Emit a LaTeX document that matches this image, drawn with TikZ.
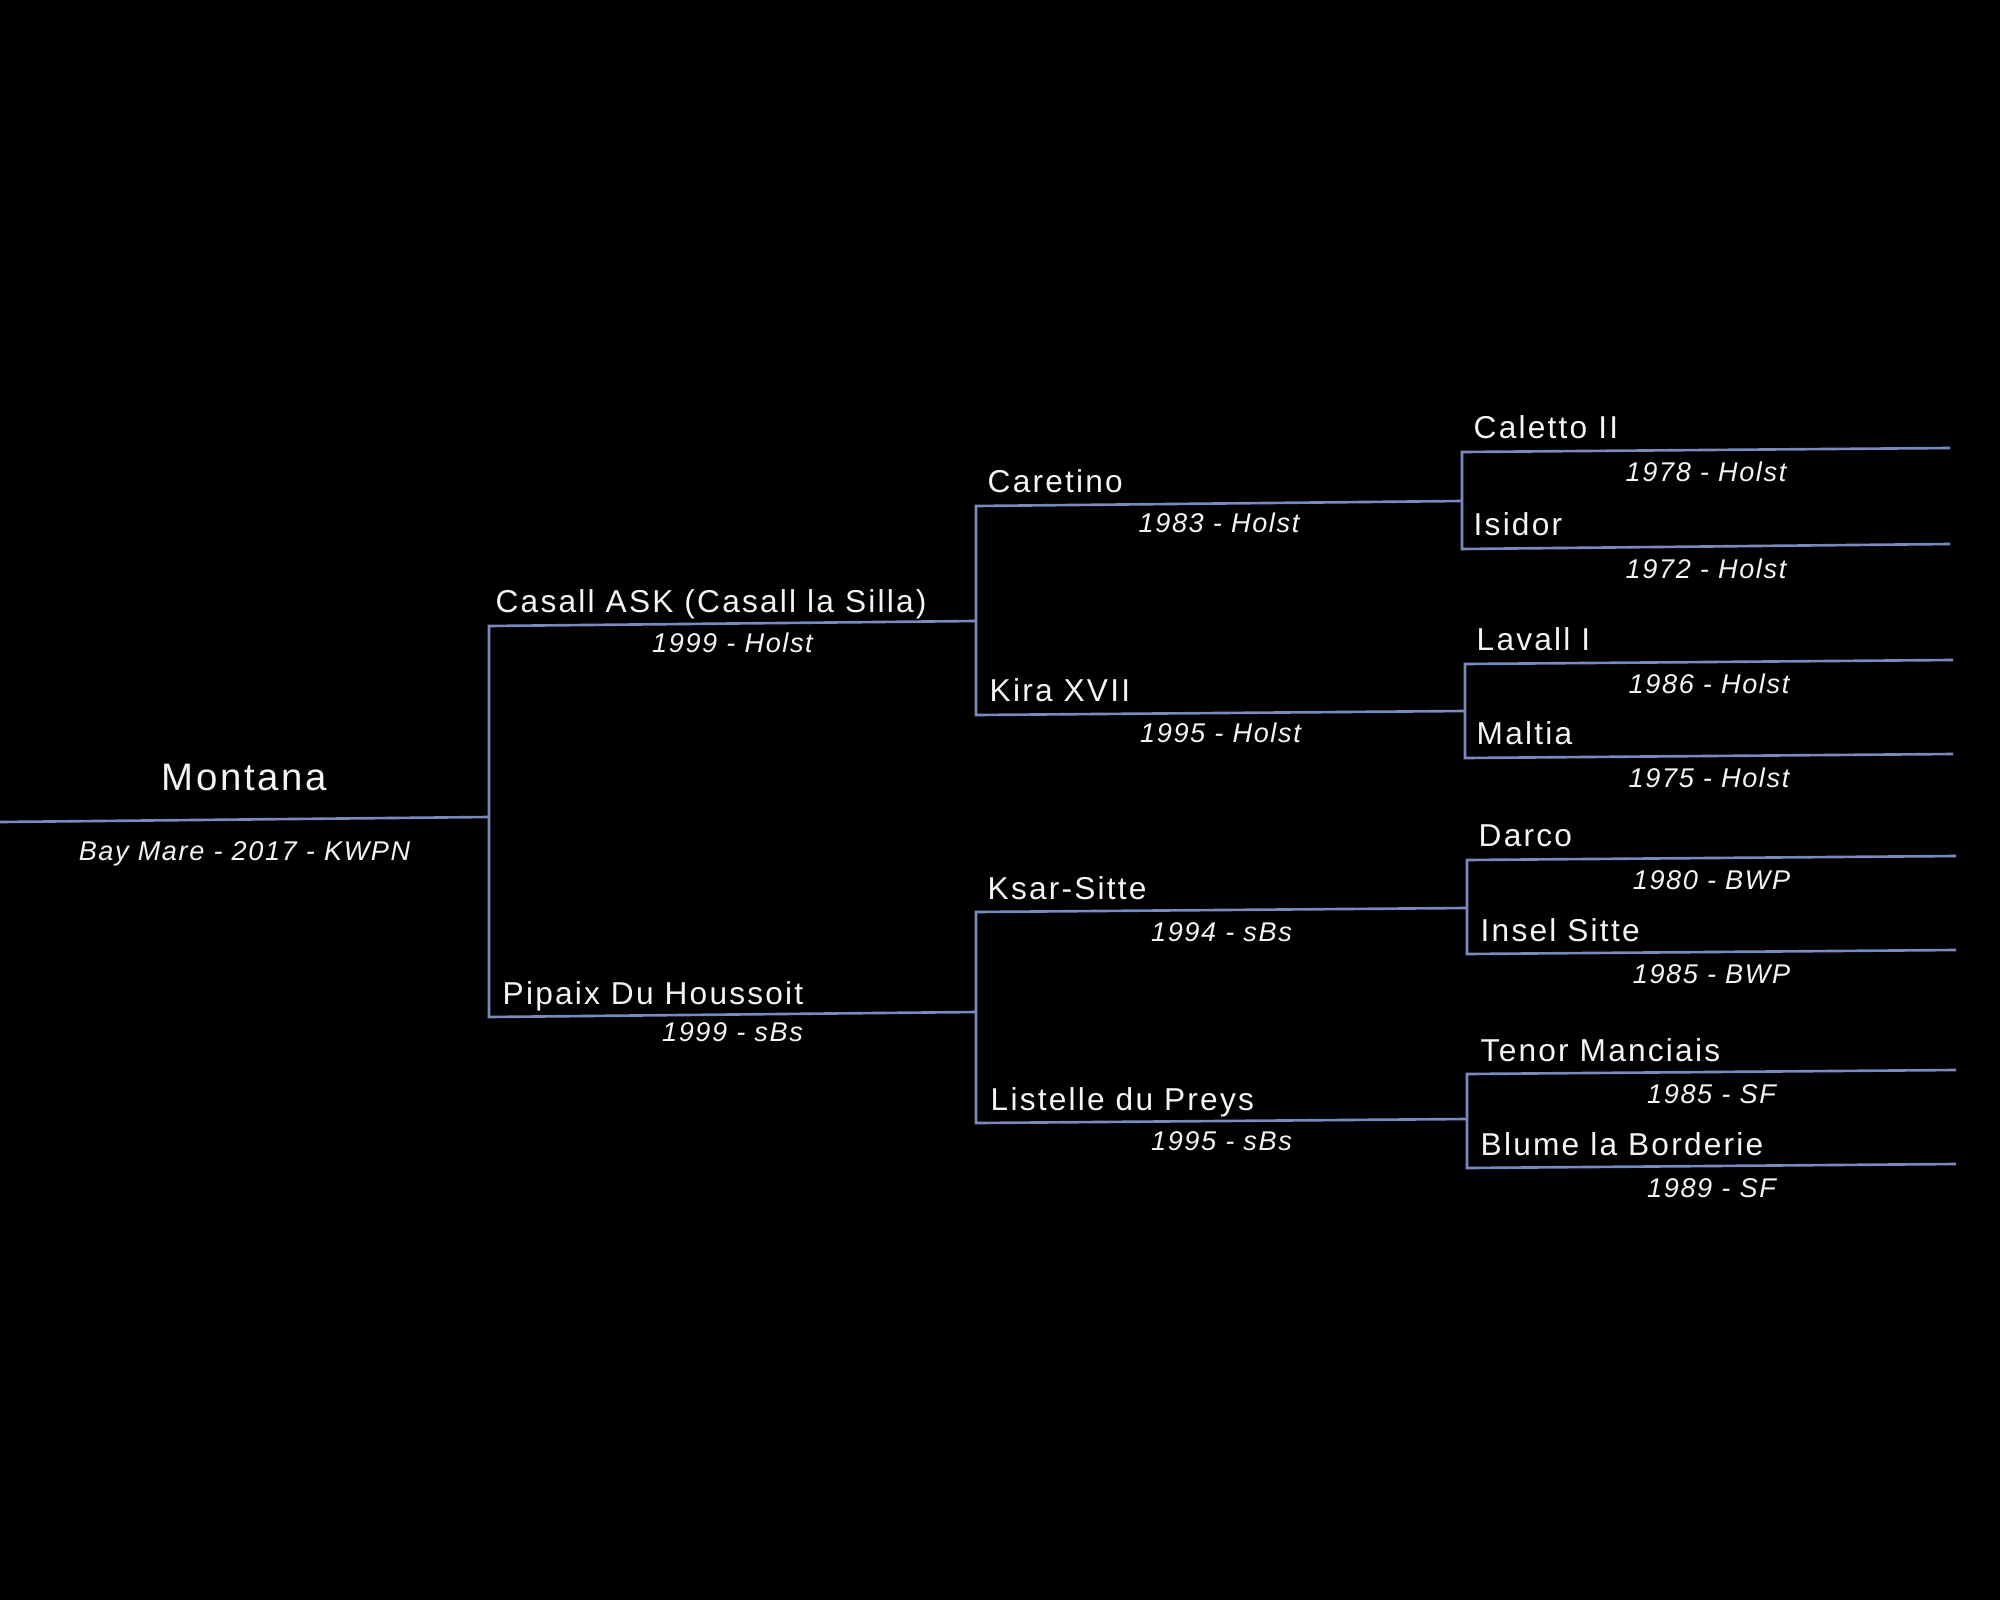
\documentclass[tikz,border=0pt]{standalone}
\usepackage{fontspec}
\setmainfont{Liberation Sans}[LetterSpace=6]
\newfontfamily\namefont{Liberation Sans}[LetterSpace=7]
\usetikzlibrary{calc}
\definecolor{linec}{RGB}{122,138,190}
\definecolor{txtc}{RGB}{244,244,244}
\tikzset{
  link/.style={draw=linec, line width=0.75pt},
  nm/.style={text=txtc, inner sep=0pt, anchor=base west, font=\namefont\fontsize{9.0}{10}\selectfont, xshift=0.11cm, yshift=0.13cm},
  yr/.style={text=txtc, inner sep=0pt, anchor=base, font=\fontsize{7.7}{9}\selectfont\itshape, yshift=-0.29cm},
  yrb/.style={text=txtc, inner sep=0pt, anchor=base, font=\fontsize{7.7}{9}\selectfont\itshape, yshift=-0.315cm},
}
\begin{document}
\begin{tikzpicture}[x=0.01cm, y=-0.01cm]
\fill[black] (0,0) rectangle (2000,1600);
\useasboundingbox (0,0) rectangle (2000,1600);
% generation 0
\coordinate (m0) at (0,822);   \coordinate (m1) at (489,817);
% generation 1
\coordinate (cas0) at (489,626);  \coordinate (cas1) at (976,621);
\coordinate (pip0) at (489,1017); \coordinate (pip1) at (976,1012);
% generation 2
\coordinate (car0) at (976,506);  \coordinate (car1) at (1462,501);
\coordinate (kir0) at (976,715);  \coordinate (kir1) at (1465,711);
\coordinate (ksa0) at (976,912);  \coordinate (ksa1) at (1467,908);
\coordinate (lis0) at (976,1123); \coordinate (lis1) at (1467,1119);
% generation 3
\coordinate (cal0) at (1462,452); \coordinate (cal1) at (1950,448);
\coordinate (isi0) at (1462,549); \coordinate (isi1) at (1950,544);
\coordinate (lav0) at (1465,664); \coordinate (lav1) at (1953,660);
\coordinate (mal0) at (1465,758); \coordinate (mal1) at (1953,754);
\coordinate (dar0) at (1467,860); \coordinate (dar1) at (1956,856);
\coordinate (ins0) at (1467,954); \coordinate (ins1) at (1956,950);
\coordinate (ten0) at (1467,1074);\coordinate (ten1) at (1956,1070);
\coordinate (blu0) at (1467,1168);\coordinate (blu1) at (1956,1164);

% lines
\draw[link] (m0) -- (m1);
\draw[link] (cas1) -- (cas0) -- (pip0) -- (pip1);
\draw[link] (car1) -- (car0) -- (kir0) -- (kir1);
\draw[link] (ksa1) -- (ksa0) -- (lis0) -- (lis1);
\draw[link] (cal1) -- (cal0) -- (isi0) -- (isi1);
\draw[link] (lav1) -- (lav0) -- (mal0) -- (mal1);
\draw[link] (dar1) -- (dar0) -- (ins0) -- (ins1);
\draw[link] (ten1) -- (ten0) -- (blu0) -- (blu1);

% texts
\node[text=txtc, inner sep=0pt, anchor=base, font=\namefont\fontsize{10.9}{12}\selectfont, yshift=0.29cm] (nmon) at ($(m0)!0.5!(m1)$) {Montana};
\node[text=txtc, inner sep=0pt, anchor=base, font=\fontsize{7.7}{9}\selectfont\itshape, yshift=-0.41cm] (ymon) at ($(m0)!0.5!(m1)$) {Bay Mare - 2017 - KWPN};

\node[nm, xshift=-0.05cm] (ncas) at (cas0) {Casall ASK (Casall la Silla)};
\node[yr] (ycas) at ($(cas0)!0.5!(cas1)$) {1999 - Holst};
\node[nm, xshift=0.02cm] (npip) at (pip0) {Pipaix Du Houssoit};
\node[yr, yshift=0.02cm] (ypip) at ($(pip0)!0.5!(pip1)$) {1999 - sBs};

\node[nm] (ncar) at (car0) {Caretino};
\node[yr] (ycar) at ($(car0)!0.5!(car1)$) {1983 - Holst};
\node[nm, xshift=0.02cm] (nkir) at (kir0) {Kira XVII};
\node[yr] (ykir) at ($(kir0)!0.5!(kir1)$) {1995 - Holst};
\node[nm] (nksa) at (ksa0) {Ksar-Sitte};
\node[yr, yshift=-0.02cm] (yksa) at ($(ksa0)!0.5!(ksa1)$) {1994 - sBs};
\node[nm, xshift=0.03cm] (nlis) at (lis0) {Listelle du Preys};
\node[yr] (ylis) at ($(lis0)!0.5!(lis1)$) {1995 - sBs};

\node[nm] (ncal) at (cal0) {Caletto II};
\node[yrb] (ycal) at ($(cal0)!0.5!(cal1)$) {1978 - Holst};
\node[nm] (nisi) at (isi0) {Isidor};
\node[yrb] (yisi) at ($(isi0)!0.5!(isi1)$) {1972 - Holst};
\node[nm] (nlav) at (lav0) {Lavall I};
\node[yrb] (ylav) at ($(lav0)!0.5!(lav1)$) {1986 - Holst};
\node[nm] (nmal) at (mal0) {Maltia};
\node[yrb] (ymal) at ($(mal0)!0.5!(mal1)$) {1975 - Holst};
\node[nm] (ndar) at (dar0) {Darco};
\node[yrb] (ydar) at ($(dar0)!0.5!(dar1)$) {1980 - BWP};
\node[nm, xshift=0.02cm] (nins) at (ins0) {Insel Sitte};
\node[yrb] (yins) at ($(ins0)!0.5!(ins1)$) {1985 - BWP};
\node[nm, xshift=0.02cm] (nten) at (ten0) {Tenor Manciais};
\node[yrb] (yten) at ($(ten0)!0.5!(ten1)$) {1985 - SF};
\node[nm, xshift=0.02cm] (nblu) at (blu0) {Blume la Borderie};
\node[yrb] (yblu) at ($(blu0)!0.5!(blu1)$) {1989 - SF};
\end{tikzpicture}
\end{document}
